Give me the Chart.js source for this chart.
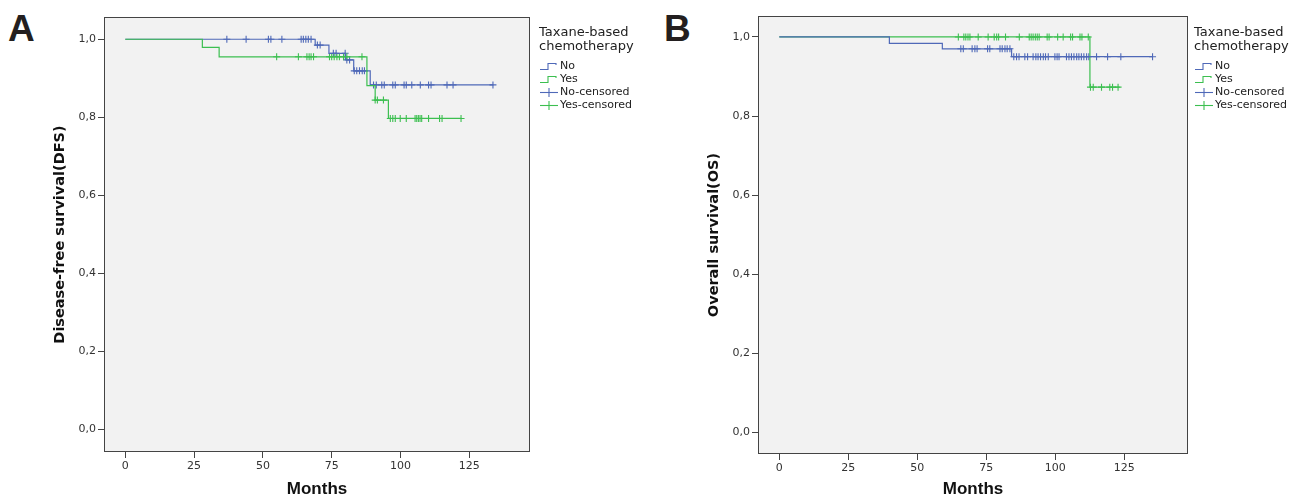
<!DOCTYPE html>
<html>
<head>
<meta charset="utf-8">
<script src="https://cdn.jsdelivr.net/npm/chart.js@4.4.1/dist/chart.umd.min.js"></script>
<style>
  body { margin: 0; background: #fff; width: 1290px; height: 498px; overflow: hidden; position: relative; font-family: "DejaVu Sans", sans-serif; }
  canvas { position: absolute; top: 0; }
  #chartA { left: 0; }
  #chartB { left: 650px; }
  .letter { position: absolute; font: bold 37px/37px "Liberation Sans", Arial, sans-serif; color: #231f20; }
  .legend { position: absolute; font-size: 11px; color: #222; }
  .legend .ttl { font-size: 13px; line-height: 14px; margin-bottom: 6px; }
  .legend .row { height: 13px; line-height: 13px; display: flex; align-items: center; white-space: nowrap; }
  .legend svg { margin-right: 1px; }
</style>
</head>
<body>
<div class="letter" style="left:8px;top:10px">A</div>
<div class="letter" style="left:664px;top:10px">B</div>
<canvas id="chartA" width="540" height="498"></canvas>
<canvas id="chartB" width="548" height="498"></canvas>
<div class="legend" id="legA" style="left:539px;top:25px"></div>
<div class="legend" id="legB" style="left:1194px;top:25px"></div>
<script>
// tick labels
const xTicks = [0, 25, 50, 75, 100, 125];
const yTicks = [0, 0.2, 0.4, 0.6, 0.8, 1.0];
const yTickLabels = ["0,0", "0,2", "0,4", "0,6", "0,8", "1,0"];
const groups = ["No", "Yes"];

// A: disease-free survival, step times (months) and survival
const dfsNoTimes = [0, 69, 74, 80, 83, 89, 133.7];
const dfsNoSurv = [1, 0.985, 0.964, 0.947, 0.919, 0.883, 0.883];
const dfsYesTimes = [0, 28, 34.1, 87.8, 90.8, 95.6, 122.1];
const dfsYesSurv = [1, 0.979, 0.955, 0.881, 0.844, 0.797, 0.797];
const dfsNoCensored = [36.9, 43.9, 52.0, 52.9, 56.9, 63.9, 64.7, 65.6, 66.5, 67.5,
  69.8, 70.8, 75.6, 76.6, 79.9, 80.5, 81.5, 83.2, 84.1, 85.1, 86.1, 86.9,
  90.2, 91.2, 93.2, 94.1, 97.2, 98.1, 101.3, 102.1, 104.1, 107.2, 110.2, 111.1, 116.9, 119.1, 133.6];
const dfsYesCensored = [55.0, 62.9, 66.0, 66.8, 67.5, 68.4, 74.2, 75.0, 75.9, 76.9, 77.8, 79.3, 80.5, 86.0,
  90.8, 91.6, 93.8, 96.3, 97.2, 98.1, 99.9, 102.1, 105.3, 105.9, 106.5, 107.1, 107.7, 110.2, 114.2, 115.1, 122.0];

// B: overall survival
const osNoTimes = [0, 39.9, 59.1, 84.2, 135.3];
const osNoSurv = [1, 0.984, 0.970, 0.950, 0.950];
const osYesTimes = [0, 112.6, 123.4];
const osYesSurv = [1, 0.873, 0.873];
const osNoCensored = [65.8, 66.7, 69.9, 70.9, 71.7, 75.5, 76.3, 80.0, 80.8, 81.8, 82.6, 83.6,
  85.0, 86.0, 86.9, 89.0, 90.0, 92.0, 93.0, 93.8, 94.7, 95.7, 96.5, 97.5, 99.9, 100.7, 101.4,
  104.1, 105.0, 105.9, 106.8, 107.8, 108.6, 109.5, 110.4, 111.4, 112.2, 115.0, 119.0, 123.8, 135.3];
const osYesCensored = [64.9, 66.9, 67.6, 68.4, 69.1, 72.1, 75.7, 77.9, 78.8, 79.5, 82.0, 87.0,
  90.6, 91.3, 92.0, 92.8, 93.5, 94.2, 97.1, 97.8, 100.9, 102.9, 105.6, 106.3, 109.0, 109.7, 112.0,
  112.8, 113.8, 116.8, 119.8, 120.8, 122.8];

const blue = "#4f69b8";
const green = "#3cbf50";

function survAt(times, surv, t) {
  let s = surv[0];
  for (let i = 0; i < times.length; i++) if (times[i] <= t) s = surv[i];
  return s;
}

function curve(times, surv, color) {
  return {
    data: times.map((t, i) => ({ x: t, y: surv[i] })),
    showLine: true, stepped: true, borderColor: color, borderWidth: 1.2,
    pointRadius: 0, fill: false
  };
}

function censored(cens, times, surv, color) {
  return {
    data: cens.map(t => ({ x: t, y: survAt(times, surv, t) })),
    showLine: false, pointStyle: "cross", pointRadius: 3.5, borderColor: color, borderWidth: 1.1
  };
}

const framePlugin = {
  id: "frame",
  beforeDraw(chart) {
    const a = chart.chartArea, c = chart.ctx;
    c.save();
    c.fillStyle = "#f2f2f2";
    c.fillRect(a.left, a.top, a.right - a.left, a.bottom - a.top);
    c.restore();
  },
  afterDraw(chart) {
    const a = chart.chartArea, c = chart.ctx;
    c.save();
    c.strokeStyle = "#444";
    c.lineWidth = 1;
    c.strokeRect(a.left + 0.5, a.top + 0.5, a.right - a.left - 1, a.bottom - a.top - 1);
    c.restore();
  }
};

function makeChart(id, cfg) {
  new Chart(document.getElementById(id), {
    type: "scatter",
    data: { datasets: cfg.datasets },
    options: {
      responsive: false, animation: false, devicePixelRatio: 1,
      layout: { padding: cfg.padding },
      plugins: { legend: { display: false }, tooltip: { enabled: false } },
      scales: {
        x: {
          type: "linear", min: cfg.xMin, max: cfg.xMax,
          afterBuildTicks: ax => { ax.ticks = xTicks.map(v => ({ value: v })); },
          afterFit: ax => { ax.height = cfg.xHeight; },
          border: { display: false },
          grid: { drawOnChartArea: false, drawTicks: true, tickLength: 6, color: "#444" },
          ticks: { padding: 2, color: "#333", font: { family: "DejaVu Sans", size: 11 }, maxRotation: 0 },
          title: { display: true, text: "Months", color: "#111", padding: { top: 0, bottom: 0 },
            font: { family: "Liberation Sans", weight: "bold", size: 17, lineHeight: 1 } }
        },
        y: {
          type: "linear", min: cfg.yMin, max: cfg.yMax,
          afterBuildTicks: ax => { ax.ticks = yTicks.map(v => ({ value: v })); },
          afterFit: ax => { ax.width = 64; },
          border: { display: false },
          grid: { drawOnChartArea: false, drawTicks: true, tickLength: 6, color: "#444" },
          ticks: { padding: 2, color: "#333", font: { family: "DejaVu Sans", size: 11 },
            callback: (v, i) => yTickLabels[i] },
          title: { display: true, text: cfg.yTitle, color: "#111", padding: { top: 12, bottom: 0 },
            font: { family: "DejaVu Sans", weight: "bold", size: 14.5 } }
        }
      }
    },
    plugins: [framePlugin]
  });
}

makeChart("chartA", {
  datasets: [
    curve(dfsYesTimes, dfsYesSurv, green),
    curve(dfsNoTimes, dfsNoSurv, blue),
    censored(dfsYesCensored, dfsYesTimes, dfsYesSurv, green),
    censored(dfsNoCensored, dfsNoTimes, dfsNoSurv, blue)
  ],
  padding: { left: 40, top: 17, right: 10, bottom: 0 },
  xMin: -7.74, xMax: 147.06, yMin: -0.058, yMax: 1.057, xHeight: 46,
  yTitle: "Disease-free survival(DFS)"
});

makeChart("chartB", {
  datasets: [
    curve(osNoTimes, osNoSurv, blue),
    curve(osYesTimes, osYesSurv, green),
    censored(osNoCensored, osNoTimes, osNoSurv, blue),
    censored(osYesCensored, osYesTimes, osYesSurv, green)
  ],
  padding: { left: 44, top: 16, right: 10, bottom: 0 },
  xMin: -7.72, xMax: 148.15, yMin: -0.055, yMax: 1.053, xHeight: 44,
  yTitle: "Overall survival(OS)"
});

// legends
function stepIcon(color) {
  return `<svg width="20" height="10"><polyline points="1,8.5 9,8.5 9,2.5 17,2.5 17,4" fill="none" stroke="${color}" stroke-width="1.1"/></svg>`;
}
function censIcon(color) {
  return `<svg width="20" height="10"><line x1="1" y1="5.5" x2="19" y2="5.5" stroke="${color}" stroke-width="1.1"/><line x1="10" y1="1" x2="10" y2="10" stroke="${color}" stroke-width="1.1"/></svg>`;
}
function fillLegend(id) {
  const colors = [blue, green];
  let html = '<div class="ttl">Taxane-based<br>chemotherapy</div>';
  groups.forEach((g, i) => { html += `<div class="row">${stepIcon(colors[i])}${g}</div>`; });
  groups.forEach((g, i) => { html += `<div class="row">${censIcon(colors[i])}${g}-censored</div>`; });
  document.getElementById(id).innerHTML = html;
}
fillLegend("legA");
fillLegend("legB");
</script>
</body>
</html>
